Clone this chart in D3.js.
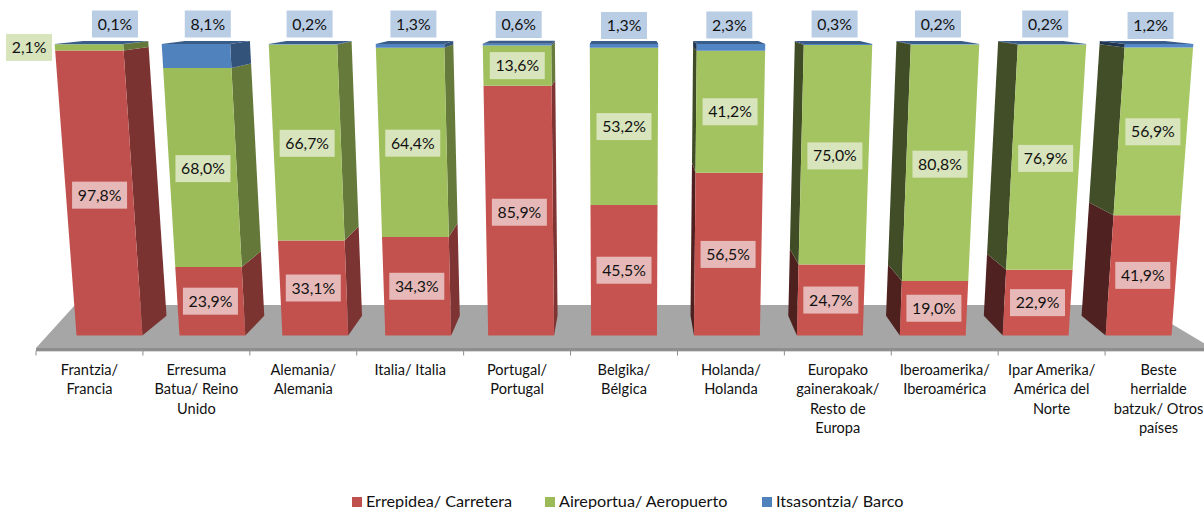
<!DOCTYPE html>
<html>
<head>
<meta charset="utf-8">
<script src="https://cdn.jsdelivr.net/npm/d3@7"></script>
<style>
	html, body { margin: 0; padding: 0; background: #fff; overflow: hidden; }
	text { font-family: Lato, "Open Sans", sans-serif; fill: #111; }
</style>
</head>
<body>
<div id="chart"></div>
<script>
var categories = [
	"Frantzia/ Francia", "Erresuma Batua/ Reino Unido", "Alemania/ Alemania", "Italia/ Italia",
	"Portugal/ Portugal", "Belgika/ Bélgica", "Holanda/ Holanda", "Europako gainerakoak/ Resto de Europa",
	"Iberoamerika/ Iberoamérica", "Ipar Amerika/ América del Norte", "Beste herrialde batzuk/ Otros países"
];
var categoryLines = [
	["Frantzia/", "Francia"],
	["Erresuma", "Batua/ Reino", "Unido"],
	["Alemania/", "Alemania"],
	["Italia/ Italia"],
	["Portugal/", "Portugal"],
	["Belgika/", "Bélgica"],
	["Holanda/", "Holanda"],
	["Europako", "gainerakoak/", "Resto de", "Europa"],
	["Iberoamerika/", "Iberoamérica"],
	["Ipar Amerika/", "América del", "Norte"],
	["Beste", "herrialde", "batzuk/ Otros", "países"]
];
var seriesNames = ["Errepidea/ Carretera", "Aireportua/ Aeropuerto", "Itsasontzia/ Barco"];
var road = [97.8, 23.9, 33.1, 34.3, 85.9, 45.5, 56.5, 24.7, 19.0, 22.9, 41.9];
var air = [2.1, 68.0, 66.7, 64.4, 13.6, 53.2, 41.2, 75.0, 80.8, 76.9, 56.9];
var boat = [0.1, 8.1, 0.2, 1.3, 0.6, 1.3, 2.3, 0.3, 0.2, 0.2, 1.2];

var width = 1204,
	height = 509;

var seriesColors = ["#C0504D", "#9BBB59", "#4F81BD"],
	seriesColorsRight = ["#CB5551", "#A8C866", "#5487C7"],
	boxColors = ["#E6B9B8", "#D8E4BC", "#B9CDE5"];

var svg = d3.select("#chart").append("svg")
	.attr("width", width)
	.attr("height", height);

var xTicks = d3.scaleBand().domain(categories).range([36, 1212]);
var xBars = d3.scaleBand().domain(categories).range([36, 1212]).paddingInner(0.36).paddingOuter(0.18);
var y = d3.scaleLinear().domain([0, 50, 100]).range([335.5, 192, 44]);

// hand fitted perspective, the original is a 3D excel column chart
var cx = 624.5,
	kY = d3.scaleLinear().domain([44, 335.5]).range([1.001, 0.9626]);

function front(x, yy) {
	return [cx + (x - cx) * kY(yy), yy];
}
function back(x, yy) {
	var f = front(x, yy);
	return [cx + (f[0] - cx) * 0.95, -9 + (yy + 9) * 0.943];
}
function shade(c, f) {
	var r = d3.rgb(c);
	return d3.rgb(r.r * f, r.g * f, r.b * f).formatHex();
}
function poly(sel, pts, fill) {
	sel.append("polygon").attr("points", pts.map(function (p) { return p.join(","); }).join(" ")).attr("fill", fill);
}

// floor
var floor = svg.append("g").attr("class", "floor");
poly(floor, [[36, 348], [75, 305], [1140, 305], [1212, 348]], "#A6A6A6");
poly(floor, [[36, 348], [1212, 348], [1214, 351], [36, 351]], "#8E8E8E");

// axis ticks at the band edges
var axisG = svg.append("g").attr("class", "axis");
axisG.append("line").attr("x1", 36).attr("x2", 1204).attr("y1", 351.5).attr("y2", 351.5).attr("stroke", "#D9D9D9");
axisG.selectAll("line.tick").data(categories).enter().append("line")
	.attr("class", "tick")
	.attr("x1", function (d) { return xTicks(d); })
	.attr("x2", function (d) { return xTicks(d); })
	.attr("y1", 351)
	.attr("y2", 355.5)
	.attr("stroke", "#8C8C8C");

axisG.selectAll("text.cat").data(categories).enter().append("text")
	.attr("class", "cat")
	.attr("text-anchor", "middle")
	.attr("font-size", 14.6)
	.each(function (d, i) {
		var t = d3.select(this);
		categoryLines[i].forEach(function (line, j) {
			t.append("tspan")
				.attr("x", xTicks(d) + xTicks.bandwidth() / 2)
				.attr("y", 375 + j * 19.3)
				.text(line);
		});
	});

// bars
var stack = d3.stack().keys([0, 1, 2]).value(function (d, k) { return d[k]; });
var rows = categories.map(function (c, i) { return [road[i], air[i], boat[i]]; });
var layers = stack(rows);

var barsG = svg.append("g").attr("class", "bars");
categories.forEach(function (c, i) {
	var g = barsG.append("g"),
		x0 = xBars(c),
		x1 = x0 + xBars.bandwidth(),
		isLeft = i < 5,
		edge = isLeft ? x1 : x0,
		t = i / 10,
		sideFactor = isLeft ? 0.64 : 0.39;

	layers.forEach(function (layer, s) {
		var y0 = y(layer[i][0]),
			y1 = y(layer[i][1]),
			face = d3.interpolateRgb(seriesColors[s], seriesColorsRight[s])(t);

		if (i !== 5) {
			poly(g, [front(edge, y0), front(edge, y1), back(edge, y1), back(edge, y0)], shade(face, sideFactor));
		}
		poly(g, [front(x0, y0), front(x1, y0), front(x1, y1), front(x0, y1)], face);
	});

	var yTop = y(layers[2][i][1]);
	poly(g, [front(x0, yTop), front(x1, yTop), back(x1, yTop), back(x0, yTop)], shade(seriesColors[2], 0.72));
});

// data labels. boat labels sit in a row above the bars, the rest are mid segment
var boatDx = [17.5, 5, 1.5, 0, 0, 0, 0, 0, -2, 0, 0],
	boatY = [24, 24, 24, 24, 24.5, 25.5, 25, 24, 24, 24, 25.5];

function fmt(v) {
	return v.toFixed(1).replace(".", ",") + "%";
}
function addLabel(px, py, value, s) {
	var txt = fmt(value),
		w = txt.length > 4 ? 55 : 46,
		lab = svg.append("g").attr("class", "label").attr("transform", "translate(" + px + "," + py + ")");
	lab.append("rect").attr("x", -w / 2).attr("y", -13.5).attr("width", w).attr("height", 27).attr("fill", boxColors[s]);
	lab.append("text").attr("text-anchor", "middle").attr("y", 5.6).attr("font-size", 15.8).text(txt);
}

categories.forEach(function (c, i) {
	var mid = xBars(c) + xBars.bandwidth() / 2;
	[0, 1].forEach(function (s) {
		var v = rows[i][s],
			yy = y((layers[s][i][0] + layers[s][i][1]) / 2),
			p = front(mid, yy);
		if (i === 0 && s === 1) {
			addLabel(29, yy, v, s);
		} else {
			addLabel(p[0], p[1], v, s);
		}
	});
	addLabel(cx + (mid - cx) * 0.985 + boatDx[i], boatY[i], rows[i][2], 2);
});

// legend
var legendX = [352, 545, 762];
var legend = svg.append("g").attr("class", "legend");
seriesNames.forEach(function (name, s) {
	legend.append("rect")
		.attr("x", legendX[s]).attr("y", 497)
		.attr("width", 10).attr("height", 10)
		.attr("fill", seriesColors[s]);
	legend.append("text")
		.attr("x", legendX[s] + 14).attr("y", 507)
		.attr("font-size", 16.2)
		.text(name);
});
</script>
</body>
</html>
